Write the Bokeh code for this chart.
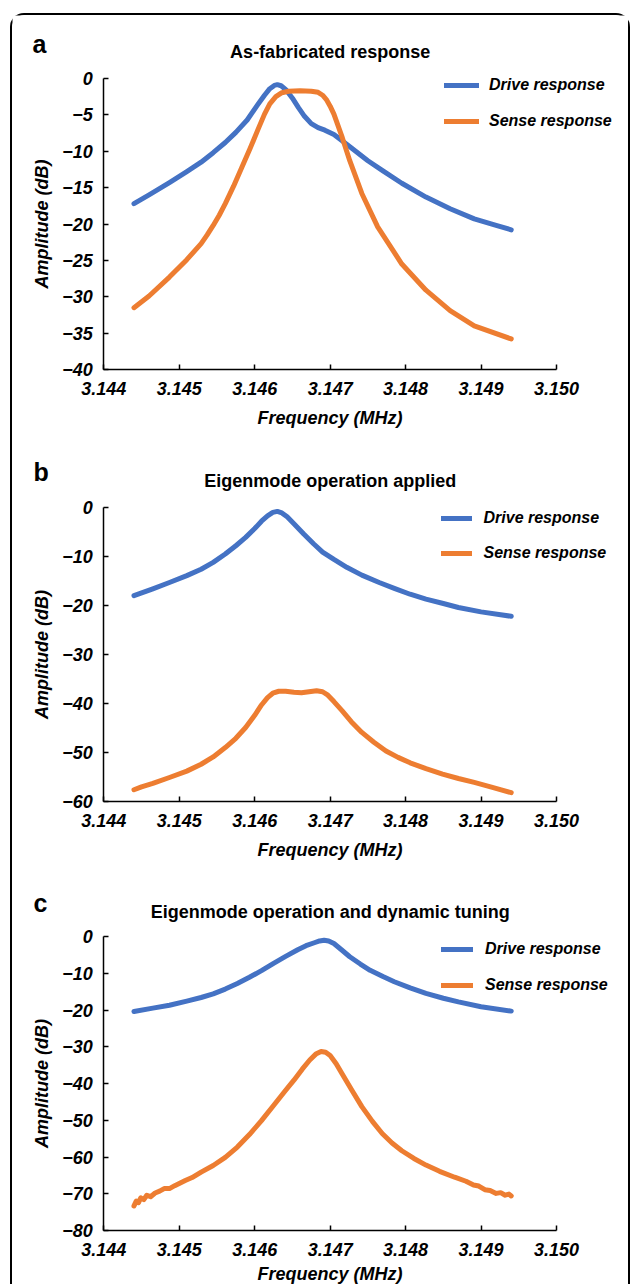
from bokeh.plotting import figure
from bokeh.layouts import column
from bokeh.models import Range1d, FixedTicker, Legend, LegendItem, Label
from bokeh.embed import file_html
from bokeh.resources import INLINE

FONT = "Liberation Sans"
DRIVE_COLOR = "#4472C4"
SENSE_COLOR = "#ED7D31"

# ---------------- data ----------------
x_ticks = [3.144, 3.145, 3.146, 3.147, 3.148, 3.149, 3.150]
x_tick_labels = ["3.144", "3.145", "3.146", "3.147", "3.148", "3.149", "3.150"]

y_ticks_a = [-40, -35, -30, -25, -20, -15, -10, -5, 0]
y_tick_labels_a = ["\u221240", "\u221235", "\u221230", "\u221225", "\u221220", "\u221215", "\u221210", "\u22125", "0"]
y_ticks_b = [-60, -50, -40, -30, -20, -10, 0]
y_tick_labels_b = ["\u221260", "\u221250", "\u221240", "\u221230", "\u221220", "\u221210", "0"]
y_ticks_c = [-80, -70, -60, -50, -40, -30, -20, -10, 0]
y_tick_labels_c = ["\u221280", "\u221270", "\u221260", "\u221250", "\u221240", "\u221230", "\u221220", "\u221210", "0"]

series_labels = ["Drive response", "Sense response"]
panel_letters = ["a", "b", "c"]
panel_titles = ["As-fabricated response", "Eigenmode operation applied",
                "Eigenmode operation and dynamic tuning"]

# Panel a
freq_a_drive = [3.14440, 3.14460, 3.14487, 3.14510, 3.14529, 3.14545, 3.14561, 3.14575, 3.14590,
                3.14604, 3.14613, 3.14620, 3.14626, 3.14630, 3.14635, 3.14642, 3.14650, 3.14658,
                3.14666, 3.14675, 3.14684, 3.14693, 3.14705, 3.14715, 3.14730, 3.14750, 3.14770,
                3.14795, 3.14827, 3.14859, 3.14891, 3.14920, 3.14940]
amp_a_drive = [-17.2, -16.0, -14.3, -12.8, -11.5, -10.2, -8.8, -7.4, -5.7,
               -3.6, -2.3, -1.4, -0.95, -0.85, -1.0, -1.6, -2.7, -4.0,
               -5.2, -6.2, -6.75, -7.1, -7.7, -8.5, -9.7, -11.3, -12.7,
               -14.4, -16.3, -17.9, -19.3, -20.2, -20.8]
freq_a_sense = [3.14440, 3.14460, 3.14487, 3.14510, 3.14529, 3.14537, 3.14545, 3.14553, 3.14561,
                3.14572, 3.14583, 3.14594, 3.14604, 3.14613, 3.14620, 3.14628, 3.14636, 3.14645,
                3.14660, 3.14675, 3.14684, 3.14690, 3.14695, 3.14700, 3.14705, 3.14716, 3.14726,
                3.14742, 3.14763, 3.14795, 3.14827, 3.14859, 3.14891, 3.14940]
amp_a_sense = [-31.5, -29.9, -27.3, -24.9, -22.7, -21.5, -20.2, -18.8, -17.2,
               -14.8, -12.2, -9.6, -7.1, -4.9, -3.5, -2.5, -1.95, -1.75,
               -1.7, -1.75, -1.9, -2.3, -2.9, -3.8, -4.9, -8.1, -11.3,
               -15.8, -20.4, -25.5, -29.1, -31.9, -34.0, -35.8]

# Panel b
freq_b_drive = [3.14440, 3.14465, 3.14487, 3.14510, 3.14529, 3.14545, 3.14561, 3.14575, 3.14588,
                3.14600, 3.14609, 3.14617, 3.14624, 3.14630, 3.14636, 3.14643, 3.14652, 3.14665,
                3.14678, 3.14690, 3.14705, 3.14722, 3.14742, 3.14765, 3.14785, 3.14806, 3.14827,
                3.14850, 3.14870, 3.14900, 3.14940]
amp_b_drive = [-18.0, -16.6, -15.3, -13.9, -12.6, -11.2, -9.5, -7.8, -6.1,
               -4.3, -2.8, -1.7, -1.0, -0.8, -1.1, -1.9, -3.3, -5.4,
               -7.4, -9.1, -10.6, -12.2, -13.8, -15.3, -16.5, -17.7, -18.7,
               -19.6, -20.4, -21.3, -22.2]
freq_b_sense = [3.14440, 3.14450, 3.14465, 3.14487, 3.14510, 3.14529, 3.14545, 3.14561, 3.14575,
                3.14588, 3.14600, 3.14609, 3.14617, 3.14624, 3.14632, 3.14641, 3.14652, 3.14662,
                3.14672, 3.14682, 3.14690, 3.14697, 3.14705, 3.14716, 3.14728, 3.14742, 3.14758,
                3.14774, 3.14790, 3.14806, 3.14827, 3.14849, 3.14870, 3.14891, 3.14915, 3.14940]
amp_b_sense = [-57.6, -57.0, -56.3, -55.1, -53.8, -52.4, -50.9, -49.0, -47.1,
               -44.9, -42.4, -40.3, -38.8, -37.9, -37.5, -37.5, -37.7, -37.8,
               -37.6, -37.4, -37.6, -38.3, -39.6, -41.5, -43.7, -45.9, -47.9,
               -49.7, -51.0, -52.1, -53.3, -54.4, -55.3, -56.1, -57.1, -58.2]

# Panel c
freq_c_drive = [3.14440, 3.14465, 3.14487, 3.14510, 3.14529, 3.14545, 3.14561, 3.14577, 3.14593,
                3.14609, 3.14625, 3.14641, 3.14657, 3.14668, 3.14679, 3.14686, 3.14692, 3.14698,
                3.14705, 3.14715, 3.14726, 3.14740, 3.14753, 3.14770, 3.14785, 3.14806, 3.14827,
                3.14850, 3.14870, 3.14900, 3.14940]
amp_c_drive = [-20.4, -19.5, -18.7, -17.6, -16.6, -15.6, -14.3, -12.8, -11.1,
               -9.3, -7.3, -5.4, -3.6, -2.5, -1.7, -1.2, -1.0, -1.2,
               -1.9, -3.6, -5.5, -7.5, -9.2, -10.9, -12.3, -14.0, -15.5,
               -16.8, -17.8, -19.1, -20.3]
freq_c_sense = [3.14440, 3.14443, 3.14446, 3.14449, 3.14453, 3.14457, 3.14462, 3.14468, 3.14474,
                3.14480, 3.14487, 3.14494, 3.14500, 3.14508, 3.14517, 3.14529, 3.14545, 3.14561,
                3.14577, 3.14593, 3.14609, 3.14625, 3.14640, 3.14652, 3.14663, 3.14673, 3.14681,
                3.14688, 3.14694, 3.14700, 3.14708, 3.14716, 3.14729, 3.14742, 3.14756, 3.14769,
                3.14782, 3.14795, 3.14811, 3.14827, 3.14845, 3.14865, 3.14880, 3.14890, 3.14897,
                3.14905, 3.14912, 3.14920, 3.14926, 3.14932, 3.14937, 3.14940]
amp_c_sense = [-73.3, -72.0, -72.4, -71.1, -71.6, -70.4, -70.8, -69.8, -69.3,
               -68.6, -68.6, -67.8, -67.2, -66.4, -65.6, -64.1, -62.3, -60.1,
               -57.3, -53.9, -50.1, -46.0, -42.1, -39.1, -36.1, -33.6, -32.0,
               -31.3, -31.5, -32.4, -34.6, -37.4, -41.9, -46.3, -50.3, -53.6,
               -56.2, -58.3, -60.4, -62.2, -63.9, -65.5, -66.6, -67.6, -67.9,
               -68.9, -69.1, -69.9, -69.7, -70.4, -70.1, -70.6]

# ---------------- layout constants (pixels) ----------------
CANVAS_W = 616
AXIS_X_LEFT_PX = 91.3    # canvas px of the first frequency tick
AXIS_X_RIGHT_PX = 544.0  # canvas px of the last frequency tick


def make_panel(letter, title, fd, ad, fs, asn, yticks, ylabels,
               height, y_top_px, y_bot_px,
               leg_x, leg_y, leg_spacing, glyph_w, leg_standoff,
               letter_x, letter_y, title_y, xlabel_standoff):
    x0, x1 = x_ticks[0], x_ticks[-1]
    upx = (x1 - x0) / (AXIS_X_RIGHT_PX - AXIS_X_LEFT_PX)
    ybot, ytop = yticks[0], yticks[-1]
    vpx = (ytop - ybot) / (y_bot_px - y_top_px)

    p = figure(width=CANVAS_W, height=height,
               x_range=Range1d(x0 - AXIS_X_LEFT_PX * upx, x1 + (CANVAS_W - AXIS_X_RIGHT_PX) * upx),
               y_range=Range1d(ybot - (height - y_bot_px) * vpx, ytop + y_top_px * vpx),
               output_backend="svg", toolbar_location=None,
               min_border_left=0, min_border_right=0,
               min_border_top=0, min_border_bottom=0)
    p.title.visible = False
    p.grid.visible = False
    p.outline_line_color = None
    p.background_fill_color = "white"
    p.border_fill_color = "white"

    r1 = p.line(fd, ad, line_color=DRIVE_COLOR, line_width=5, line_cap="round", line_join="round")
    r2 = p.line(fs, asn, line_color=SENSE_COLOR, line_width=5, line_cap="round", line_join="round")

    for ax in (p.xaxis[0], p.yaxis[0]):
        ax.axis_line_color = "black"
        ax.axis_line_width = 1.5
        ax.major_tick_line_color = "black"
        ax.major_tick_line_width = 1.5
        ax.major_tick_in = 5
        ax.major_tick_out = 0
        ax.minor_tick_in = 0
        ax.minor_tick_out = 0
        ax.minor_tick_line_color = None
        ax.major_label_text_font = FONT
        ax.major_label_text_font_size = "18px"
        ax.major_label_text_font_style = "bold italic"
        ax.major_label_text_color = "black"
        ax.axis_label_text_font = FONT
        ax.axis_label_text_font_size = "18px"
        ax.axis_label_text_font_style = "bold italic"
        ax.axis_label_text_color = "black"

    xa = p.xaxis[0]
    xa.fixed_location = ybot
    xa.bounds = (x0, x1)
    xa.ticker = FixedTicker(ticks=x_ticks)
    xa.major_label_overrides = dict(zip(x_ticks, x_tick_labels))
    xa.major_label_standoff = 12
    xa.axis_label = "Frequency (MHz)"
    xa.axis_label_standoff = xlabel_standoff

    ya = p.yaxis[0]
    ya.fixed_location = x0
    ya.bounds = (ybot, ytop)
    ya.ticker = FixedTicker(ticks=yticks)
    ya.major_label_overrides = dict(zip(yticks, ylabels))
    ya.major_label_standoff = 11
    ya.axis_label = "Amplitude (dB)"
    ya.axis_label_standoff = 7

    legend = Legend(items=[LegendItem(label=series_labels[0], renderers=[r1]),
                           LegendItem(label=series_labels[1], renderers=[r2])],
                    location=(leg_x, leg_y), glyph_width=glyph_w, glyph_height=20,
                    label_height=20, spacing=leg_spacing, padding=0, margin=0,
                    label_standoff=leg_standoff, border_line_color=None,
                    background_fill_alpha=0,
                    label_text_font=FONT, label_text_font_size="16px",
                    label_text_font_style="bold italic", label_text_color="black")
    p.add_layout(legend)

    p.add_layout(Label(x=letter_x, y=letter_y, x_units="screen", y_units="screen",
                       text=letter, text_font=FONT, text_font_size="25px",
                       text_font_style="bold", text_color="black",
                       text_baseline="alphabetic"))
    p.add_layout(Label(x=(x0 + x1) / 2, y=title_y, x_units="data", y_units="screen",
                       text=title, text_font=FONT, text_font_size="18px",
                       text_font_style="bold", text_color="black",
                       text_align="center", text_baseline="alphabetic"))
    return p


pa = make_panel(panel_letters[0], panel_titles[0], freq_a_drive, amp_a_drive, freq_a_sense, amp_a_sense,
                y_ticks_a, y_tick_labels_a, 425, 63, 354,
                432, 309.5, 16, 35, 10, 20, 397, 388.5, 10)
pb = make_panel(panel_letters[1], panel_titles[1], freq_b_drive, amp_b_drive, freq_b_sense, amp_b_sense,
                y_ticks_b, y_tick_labels_b, 430, 67, 361,
                428.5, 307, 15, 31, 12, 21, 399, 390, 10)
pc = make_panel(panel_letters[2], panel_titles[2], freq_c_drive, amp_c_drive, freq_c_sense, amp_c_sense,
                y_ticks_c, y_tick_labels_c, 414, 66, 360,
                429, 289, 16, 32, 12, 21, 381.5, 373, 5)

layout = column(pa, pb, pc, margin=(13, 0, 0, 10),
                styles={"border": "2px solid #000", "border-bottom": "none",
                        "border-radius": "14px 14px 0 0"})

open("out.html", "w").write(file_html(layout, INLINE))
